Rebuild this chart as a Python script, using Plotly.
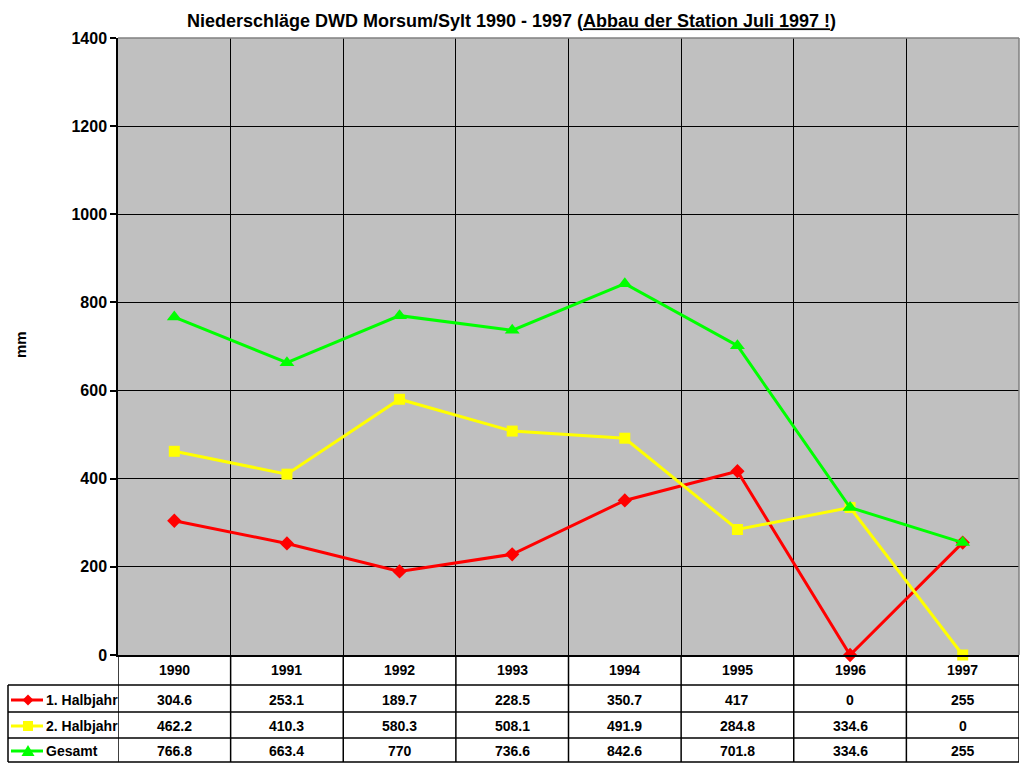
import plotly.graph_objects as go

years = ["1990", "1991", "1992", "1993", "1994", "1995", "1996", "1997"]
h1 = [304.6, 253.1, 189.7, 228.5, 350.7, 417, 0, 255]
h2 = [462.2, 410.3, 580.3, 508.1, 491.9, 284.8, 334.6, 0]
total = [766.8, 663.4, 770, 736.6, 842.6, 701.8, 334.6, 255]
series_names = ["1. Halbjahr", "2. Halbjahr", "Gesamt"]
series_colors = ["#FF0000", "#FFFF00", "#00FF00"]
series_symbols = ["diamond", "square", "triangle-up"]
y_ticks = [0, 200, 400, 600, 800, 1000, 1200, 1400]

W, H = 1024, 768
L, R, T, B = 118, 1019, 38, 655  # plot area in pixels
FONT = "Liberation Sans, Arial, sans-serif"


def px(xp):
    return (xp - L) / (R - L)


def py(yp):
    return (B - yp) / (B - T)


xs = list(range(len(years)))
fig = go.Figure()
for vals, name, col, sym in zip([h1, h2, total], series_names, series_colors, series_symbols):
    fig.add_trace(go.Scatter(
        x=xs, y=vals, mode="lines+markers", name=name,
        line=dict(color=col, width=3),
        marker=dict(symbol=sym, size=11 if sym != "triangle-up" else 13, color=col),
        cliponaxis=False, showlegend=False,
    ))

shapes = []
# gray top/right border
shapes.append(dict(type="line", xref="paper", yref="paper", x0=0, x1=1, y0=1, y1=1,
                   line=dict(color="#808080", width=1.5)))
shapes.append(dict(type="line", xref="paper", yref="paper", x0=1, x1=1, y0=0, y1=1,
                   line=dict(color="#808080", width=1.5)))

# table lines
row_lines = [685, 712, 738, 762]
for yl in row_lines:
    shapes.append(dict(type="line", xref="paper", yref="paper", x0=px(8), x1=px(R),
                       y0=py(yl), y1=py(yl), line=dict(color="black", width=1.5)))
shapes.append(dict(type="line", xref="paper", yref="paper", x0=px(8), x1=px(8),
                   y0=py(685), y1=py(762), line=dict(color="black", width=1.5)))
for i in range(len(years) + 1):
    xv = -0.5 + i
    shapes.append(dict(type="line", xref="x", yref="paper", x0=xv, x1=xv,
                       y0=py(B), y1=py(762), line=dict(color="black", width=1.5)))

annotations = []
row_y = [700, 726, 751]
tfont = dict(family=FONT, size=14, color="black", weight="bold")
for i, y in enumerate(years):
    annotations.append(dict(x=i, y=py(670), xref="x", yref="paper", text=y,
                            xanchor="center", yanchor="middle", showarrow=False, font=tfont))
for vals, ry in zip([h1, h2, total], row_y):
    for i, v in enumerate(vals):
        annotations.append(dict(x=i, y=py(ry), xref="x", yref="paper", text=f"{v:g}",
                                xanchor="center", yanchor="middle", showarrow=False, font=tfont))

# legend keys in table
for name, col, sym, ry in zip(series_names, series_colors, series_symbols, row_y):
    shapes.append(dict(type="line", xref="paper", yref="paper", x0=px(11), x1=px(43),
                       y0=py(ry), y1=py(ry), line=dict(color=col, width=3)))
    cx, cy = 28, ry
    if sym == "diamond":
        pts = [(cx, cy - 5.5), (cx + 5.5, cy), (cx, cy + 5.5), (cx - 5.5, cy)]
    elif sym == "square":
        pts = [(cx - 5, cy - 5), (cx + 5, cy - 5), (cx + 5, cy + 5), (cx - 5, cy + 5)]
    else:
        pts = [(cx, cy - 6), (cx + 6.5, cy + 5), (cx - 6.5, cy + 5)]
    path = "M " + " L ".join(f"{px(a)},{py(b)}" for a, b in pts) + " Z"
    shapes.append(dict(type="path", xref="paper", yref="paper", path=path,
                       fillcolor=col, line=dict(color=col, width=0)))
    annotations.append(dict(x=px(44), y=py(ry), xref="paper", yref="paper", text=name,
                            xanchor="left", yanchor="middle", showarrow=False, font=tfont))

# axis title
annotations.append(dict(x=px(20), y=py(345), xref="paper", yref="paper", text="mm",
                        textangle=-90, xanchor="center", yanchor="middle", showarrow=False,
                        font=dict(family=FONT, size=15, color="black", weight="bold")))

fig.update_layout(
    width=W, height=H,
    margin=dict(l=L, r=W - R, t=T, b=H - B, pad=0),
    paper_bgcolor="white", plot_bgcolor="#C0C0C0",
    title=dict(text="Niederschläge DWD Morsum/Sylt 1990 - 1997 (<u>Abbau der Station Juli 1997 !</u>)",
               x=(185 + 838) / 2 / W, xanchor="center", y=1 - 21 / H, yanchor="middle",
               font=dict(family=FONT, size=18, color="black", weight="bold")),
    xaxis=dict(range=[-0.5, len(years) - 0.5], tickvals=[i + 0.5 for i in range(len(years) - 1)],
               showticklabels=False, ticks="", showgrid=True, gridcolor="black", gridwidth=1,
               showline=True, linecolor="black", linewidth=1.5, zeroline=False, fixedrange=True),
    yaxis=dict(range=[0, 1400], tickvals=y_ticks, ticks="outside", ticklen=6, tickcolor="black",
               tickwidth=1.5, showgrid=True, gridcolor="black", gridwidth=1,
               showline=True, linecolor="black", linewidth=1.5, zeroline=False,
               tickfont=dict(family=FONT, size=16, color="black", weight="bold"), fixedrange=True),
    shapes=shapes, annotations=annotations,
)
fig.write_html("out.html", config={"displayModeBar": False},
               post_script="document.body.style.margin='0';document.body.style.overflow='hidden';")
